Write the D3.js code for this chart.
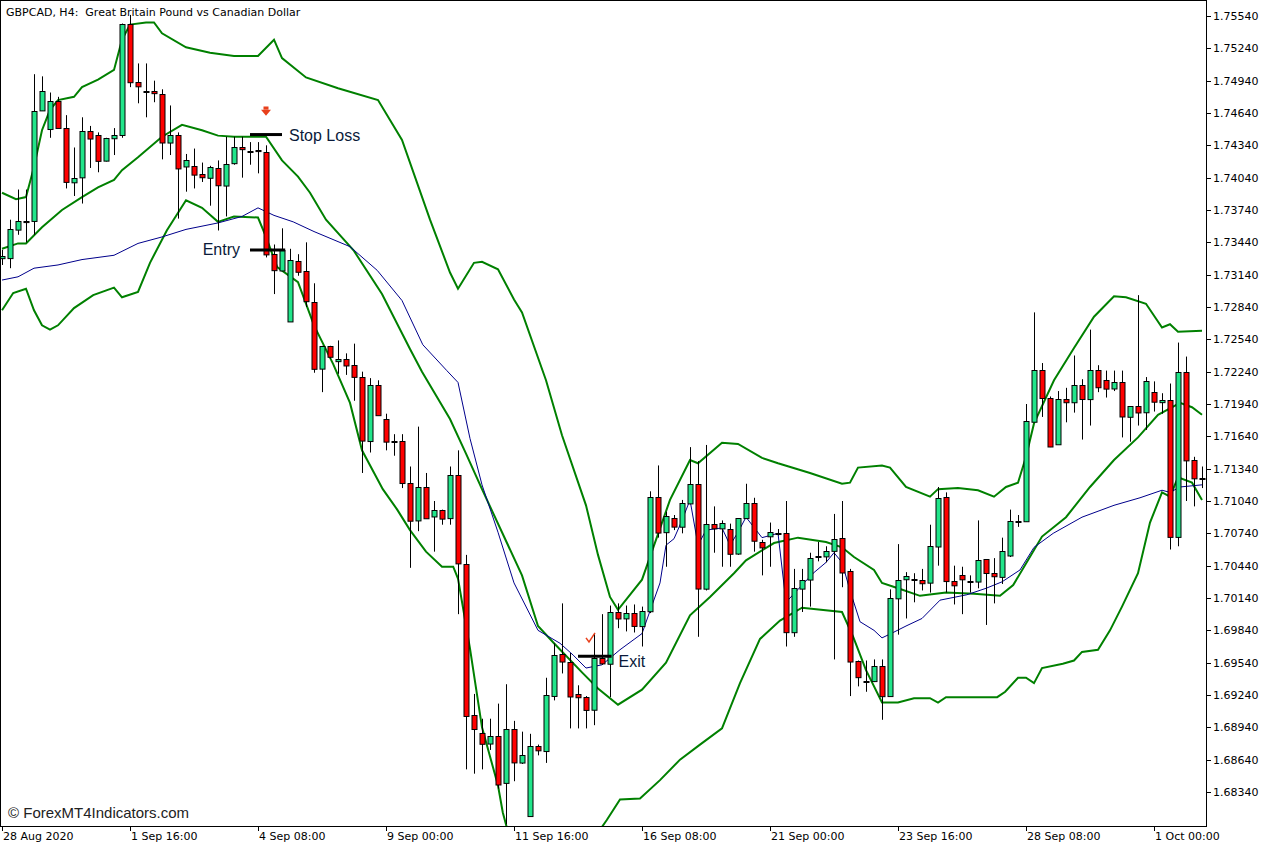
<!DOCTYPE html>
<html><head><meta charset="utf-8">
<script src="https://cdn.jsdelivr.net/npm/d3@7"></script>
<style>body{margin:0;background:#fff}svg{display:block}</style>
</head><body>
<script>
// OHLC per H4 bar, index 0..150  [open, high, low, close]
const candles = [
[1.7329,1.7337,1.7323,1.7331],[1.7329,1.7365,1.7320,1.7356],[1.7356,1.7393,1.7351,1.7364],[1.7364,1.7393,1.7344,1.7363],
[1.7364,1.7500,1.7351,1.7466],[1.7466,1.7498,1.7466,1.7484],[1.7449,1.7483,1.7441,1.7475],[1.7475,1.7479,1.7450,1.7450],
[1.7450,1.7462,1.7394,1.7400],[1.7400,1.7432,1.7387,1.7404],[1.7404,1.7460,1.7380,1.7447],[1.7447,1.7452,1.7413,1.7440],
[1.7444,1.7446,1.7409,1.7420],[1.7420,1.7441,1.7419,1.7441],[1.7441,1.7450,1.7425,1.7444],[1.7444,1.7547,1.7441,1.7547],
[1.7547,1.7555,1.7488,1.7493],[1.7493,1.7510,1.7473,1.7489],[1.7484,1.7510,1.7460,1.7484],[1.7484,1.7494,1.7474,1.7482],
[1.7482,1.7486,1.7421,1.7437],[1.7437,1.7471,1.7425,1.7444],[1.7444,1.7446,1.7366,1.7413],[1.7414,1.7426,1.7391,1.7420],
[1.7415,1.7431,1.7394,1.7407],[1.7407,1.7418,1.7400,1.7404],[1.7404,1.7415,1.7378,1.7414],[1.7413,1.7420,1.7355,1.7397],
[1.7397,1.7442,1.7368,1.7417],[1.7417,1.7442,1.7416,1.7432],[1.7432,1.7442,1.7404,1.7430],[1.7429,1.7437,1.7416,1.7429],
[1.7430,1.7437,1.7408,1.7429],[1.7428,1.7434,1.7330,1.7333],[1.7333,1.7342,1.7296,1.7318],[1.7318,1.7357,1.7318,1.7337],
[1.7271,1.7338,1.7271,1.7328],[1.7327,1.7333,1.7313,1.7317],[1.7317,1.7344,1.7284,1.7289],[1.7289,1.7306,1.7223,1.7227],
[1.7227,1.7248,1.7205,1.7248],[1.7248,1.7248,1.7236,1.7238],[1.7234,1.7253,1.7222,1.7236],[1.7236,1.7241,1.7221,1.7230],
[1.7230,1.7250,1.7197,1.7219],[1.7219,1.7224,1.7130,1.7160],[1.7160,1.7218,1.7149,1.7212],[1.7212,1.7216,1.7184,1.7184],
[1.7180,1.7185,1.7151,1.7159],[1.7160,1.7166,1.7146,1.7160],[1.7160,1.7166,1.7116,1.7121],[1.7121,1.7136,1.7042,1.7086],
[1.7086,1.7173,1.7076,1.7117],[1.7117,1.7130,1.7088,1.7088],[1.7090,1.7104,1.7057,1.7096],[1.7096,1.7096,1.7082,1.7088],
[1.7088,1.7136,1.7082,1.7128],[1.7128,1.7151,1.6999,1.7046],[1.7046,1.7054,1.6855,1.6905],[1.6905,1.6925,1.6851,1.6892],
[1.6889,1.6902,1.6855,1.6879],[1.6879,1.6902,1.6873,1.6886],[1.6886,1.6916,1.6837,1.6841],[1.6842,1.6934,1.6804,1.6892],
[1.6892,1.6900,1.6844,1.6861],[1.6861,1.6890,1.6860,1.6868],[1.6812,1.6888,1.6812,1.6877],[1.6877,1.6878,1.6868,1.6873],
[1.6872,1.6940,1.6861,1.6924],[1.6923,1.6972,1.6919,1.6961],[1.6962,1.7009,1.6944,1.6955],[1.6955,1.6963,1.6893,1.6923],
[1.6925,1.6933,1.6893,1.6922],[1.6922,1.6923,1.6893,1.6910],[1.6910,1.6981,1.6896,1.6958],[1.6958,1.6999,1.6952,1.6953],
[1.6953,1.7007,1.6922,1.7001],[1.7001,1.7009,1.6986,1.6995],[1.6995,1.7007,1.6983,1.7000],[1.7000,1.7008,1.6982,1.6988],
[1.6988,1.7006,1.6969,1.7002],[1.7002,1.7113,1.7000,1.7108],[1.7108,1.7137,1.7070,1.7075],[1.7075,1.7094,1.7043,1.7090],
[1.7088,1.7091,1.7077,1.7080],[1.7080,1.7105,1.7074,1.7102],[1.7102,1.7154,1.7101,1.7120],[1.7120,1.7141,1.6978,1.7023],
[1.7023,1.7156,1.7021,1.7083],[1.7083,1.7099,1.7056,1.7079],[1.7079,1.7086,1.7043,1.7084],[1.7078,1.7083,1.7043,1.7055],
[1.7055,1.7088,1.7054,1.7088],[1.7088,1.7120,1.7088,1.7102],[1.7102,1.7107,1.7057,1.7067],[1.7066,1.7068,1.7035,1.7061],
[1.7071,1.7084,1.7043,1.7075],[1.7074,1.7078,1.7072,1.7074],[1.7074,1.7104,1.6969,1.6982],[1.6982,1.7041,1.6978,1.7023],
[1.7023,1.7041,1.7001,1.7031],[1.7031,1.7056,1.7006,1.7051],[1.7053,1.7066,1.7048,1.7053],[1.7053,1.7062,1.7047,1.7058],
[1.7058,1.7092,1.6957,1.7069],[1.7070,1.7104,1.7024,1.7038],[1.7039,1.7041,1.6923,1.6955],[1.6956,1.6956,1.6932,1.6941],
[1.6937,1.6956,1.6927,1.6937],[1.6937,1.6957,1.6936,1.6951],[1.6951,1.6957,1.6901,1.6923],[1.6923,1.7022,1.6923,1.7014],
[1.7014,1.7064,1.6980,1.7031],[1.7031,1.7038,1.6995,1.7034],[1.7032,1.7037,1.7010,1.7032],[1.7031,1.7041,1.7021,1.7028],
[1.7028,1.7082,1.7019,1.7062],[1.7062,1.7117,1.7044,1.7107],[1.7108,1.7112,1.7019,1.7030],[1.7030,1.7044,1.7008,1.7026],
[1.7035,1.7043,1.6999,1.7031],[1.7030,1.7035,1.7019,1.7030],[1.7029,1.7086,1.7023,1.7049],[1.7050,1.7050,1.6989,1.7037],
[1.7037,1.7051,1.7009,1.7034],[1.7034,1.7070,1.7027,1.7058],[1.7053,1.7096,1.7052,1.7085],[1.7085,1.7091,1.7080,1.7085],
[1.7085,1.7194,1.7085,1.7178],[1.7178,1.7279,1.7178,1.7226],[1.7226,1.7232,1.7182,1.7200],[1.7200,1.7201,1.7154,1.7155],
[1.7157,1.7206,1.7157,1.7199],[1.7199,1.7209,1.7177,1.7196],[1.7196,1.7239,1.7186,1.7212],[1.7212,1.7217,1.7161,1.7199],
[1.7199,1.7263,1.7174,1.7226],[1.7226,1.7230,1.7205,1.7210],[1.7216,1.7225,1.7200,1.7208],[1.7208,1.7225,1.7206,1.7214],
[1.7214,1.7225,1.7163,1.7182],[1.7182,1.7192,1.7159,1.7192],[1.7192,1.7295,1.7174,1.7186],[1.7186,1.7219,1.7170,1.7215],
[1.7205,1.7215,1.7187,1.7196],[1.7196,1.7204,1.7185,1.7198],[1.7198,1.7213,1.7059,1.7071],[1.7071,1.7251,1.7062,1.7224],
[1.7224,1.7238,1.7104,1.7142],[1.7142,1.7145,1.7099,1.7125],[1.7125,1.7136,1.7116,1.7125]
];
// Bollinger bands and moving average: [bar index, price]
const upperBand = [[0,1.7390],[1.75,1.7384],[3,1.7386],[4,1.7414],[5,1.7448],[6,1.7467],[7,1.7476],[9,1.7479],[10,1.7488],[12,1.7495],[14,1.7504],[15,1.7532],[16,1.7546],[18,1.7548],[19,1.7548],[20,1.7538],[23,1.7525],[26,1.7520],[29,1.7517],[32,1.7517],[34,1.7532],[35,1.7515],[38,1.7497],[42,1.7487],[47,1.7476],[50,1.7439],[53.5,1.7365],[56,1.7316],[57,1.7301],[59,1.7325],[60,1.7326],[62,1.7319],[64,1.7291],[65,1.7279],[68,1.7216],[70,1.7165],[73,1.7100],[74.5,1.7054],[76,1.7015],[77,1.7003],[80,1.7031],[83.5,1.7105],[86,1.7142],[87,1.7139],[90,1.7158],[92,1.7157],[95,1.7144],[97,1.7139],[101,1.7130],[105,1.7120],[106,1.7121],[107,1.7135],[110,1.7137],[111,1.7135],[113,1.7117],[116,1.7108],[117,1.7115],[119.5,1.7116],[122,1.7114],[124,1.7108],[125.5,1.7117],[127,1.7121],[128,1.7145],[129,1.7176],[131.5,1.7216],[134,1.7246],[136.5,1.7275],[139,1.7294],[140.5,1.7293],[143,1.7287],[145,1.7265],[146,1.7268],[147,1.7261],[150,1.7262]];
const middleBand = [[0,1.7338],[2,1.7343],[3,1.7343],[5,1.7358],[7.5,1.7374],[10,1.7386],[12,1.7395],[14,1.7402],[15,1.7411],[17,1.7423],[20,1.7442],[22.5,1.7453],[25,1.7448],[27,1.7443],[29,1.7442],[33,1.7442],[35,1.7420],[37,1.7405],[38.5,1.7390],[40.5,1.7365],[44,1.7336],[47.5,1.7296],[51,1.7245],[52.5,1.7224],[56,1.7180],[58,1.7148],[60,1.7115],[62.5,1.7075],[65,1.7035],[67,1.6988],[69,1.6972],[72.5,1.6945],[74.5,1.6930],[77,1.6915],[80,1.6929],[83,1.6954],[86,1.6998],[88.5,1.7015],[91.5,1.7037],[93,1.7049],[96.5,1.7065],[99.5,1.7070],[103,1.7066],[105,1.7061],[106.5,1.7052],[109,1.7040],[110,1.7028],[112,1.7023],[114.75,1.7016],[118,1.7019],[121.5,1.7018],[124.75,1.7016],[126.4,1.7026],[128,1.7046],[130,1.7071],[133,1.7089],[136,1.7117],[139,1.7142],[142,1.7163],[144.5,1.7184],[146,1.7190],[147.25,1.7195],[148.75,1.7191],[150,1.7184]];
const lowerBand = [[0,1.7281],[1.4,1.7297],[3,1.7301],[4,1.7281],[5,1.7267],[6,1.7263],[7,1.7267],[9,1.7283],[11.4,1.7295],[14,1.7302],[15,1.7293],[17,1.7298],[18.5,1.7325],[20.6,1.7355],[23,1.7383],[25,1.7376],[27,1.7363],[29,1.7368],[32,1.7367],[33,1.7349],[34.4,1.7321],[37,1.7307],[39,1.7267],[41.4,1.7231],[43.5,1.7195],[45,1.7151],[47.6,1.7115],[49.4,1.7096],[51,1.7077],[53,1.7057],[55,1.7043],[56.4,1.7043],[57,1.7032],[58.5,1.6967],[60,1.6894],[62,1.6840],[62.6,1.6815],[63.5,1.6790],[69.75,1.6734],[74.75,1.6799],[75.6,1.6808],[77.25,1.6827],[79.75,1.6828],[82.25,1.6845],[84.75,1.6864],[87.25,1.6878],[90,1.6893],[92.25,1.6935],[94.75,1.6976],[97.25,1.6993],[100,1.7005],[105,1.7001],[106.4,1.6978],[108,1.6947],[110,1.6917],[112,1.6917],[114,1.6921],[116,1.6921],[117,1.6917],[118,1.6922],[124.4,1.6922],[125.4,1.6927],[127,1.6940],[128,1.6940],[129,1.6935],[130,1.6949],[132.6,1.6953],[134,1.6956],[135,1.6964],[137,1.6966],[138.5,1.6984],[140,1.7006],[142,1.7037],[143.5,1.7084],[145,1.7112],[146,1.7108],[147,1.7126],[148.75,1.7121],[150,1.7105]];
const movingAvg = [[0,1.7309],[2,1.7312],[4,1.7320],[7,1.7323],[10,1.7328],[14,1.7332],[17,1.7343],[20,1.7349],[23,1.7356],[27,1.7362],[30,1.7368],[32,1.7376],[34,1.7369],[36.4,1.7363],[39,1.7354],[43.5,1.7340],[46.9,1.7318],[50,1.7290],[52.6,1.7249],[55.6,1.7225],[57,1.7214],[58.5,1.7162],[60,1.7119],[62,1.7075],[64,1.7028],[67,1.6984],[69.75,1.6972],[71.4,1.6961],[73,1.6949],[75,1.6952],[77.25,1.6966],[80,1.6981],[81,1.7002],[82.25,1.7028],[83,1.7063],[84,1.7069],[85,1.7086],[86,1.7105],[87,1.7063],[88,1.7077],[90,1.7079],[91,1.7063],[92,1.7075],[93,1.7089],[95,1.7070],[97,1.7074],[98,1.7010],[99.75,1.7024],[101.4,1.7037],[103,1.7047],[104,1.7056],[105,1.7047],[106,1.7021],[107.25,1.6992],[109,1.6984],[110,1.6977],[111.4,1.6982],[113,1.6988],[115,1.6995],[117.25,1.7012],[120.6,1.7017],[123,1.7023],[125,1.7029],[127.25,1.7040],[129,1.7061],[131.4,1.7074],[135,1.7089],[139,1.7100],[142.25,1.7107],[145,1.7114],[146,1.7112],[147.25,1.7117],[150,1.7119]];
const priceTicks = [1.75540,1.75240,1.74940,1.74640,1.74340,1.74040,1.73740,1.73440,1.73140,1.72840,1.72540,1.72240,1.71940,1.71640,1.71340,1.71040,1.70740,1.70440,1.70140,1.69840,1.69540,1.69240,1.68940,1.68640,1.68340];
const timeTickIdx = [0,16,32,48,64,80,96,112,128,144];
const timeTickLabels = ["28 Aug 2020","1 Sep 16:00","4 Sep 08:00","9 Sep 00:00","11 Sep 16:00","16 Sep 08:00","21 Sep 00:00","23 Sep 16:00","28 Sep 08:00","1 Oct 00:00"];
const levels = [{name:"Stop Loss",price:1.7444,i0:31,i1:35,side:"right",dy:6},{name:"Entry",price:1.7337,i0:31,i1:35.4,side:"left",dy:5},{name:"Exit",price:1.6960,i0:72,i1:76.2,side:"right",dy:11}];

const W=1276,H=848, plotR=1206, plotB=826;
const svg=d3.select("body").append("svg").attr("width",W).attr("height",H).style("font-family","DejaVu Sans, sans-serif");
const x=d3.scaleLinear().domain([0,1]).range([2,10]);
const y=d3.scaleLinear().domain([1.68340,1.75540]).range([792,16]);

svg.append("clipPath").attr("id","clip").append("rect").attr("x",0).attr("y",0).attr("width",plotR).attr("height",plotB);
const g=svg.append("g").attr("clip-path","url(#clip)");

svg.append("rect").attr("x",0.5).attr("y",0.5).attr("width",plotR).attr("height",plotB).attr("fill","none").attr("stroke","#000");

const line=d3.line().x(d=>x(d[0])).y(d=>y(d[1]));
[upperBand,middleBand,lowerBand].forEach(b=>g.append("path").attr("d",line(b)).attr("fill","none").attr("stroke","#008000").attr("stroke-width",2));
g.append("path").attr("d",line(movingAvg)).attr("fill","none").attr("stroke","#00008b").attr("stroke-width",1);

const cg=g.selectAll("g.c").data(candles).join("g");
cg.append("line").attr("x1",(d,i)=>Math.round(x(i))+0.5).attr("x2",(d,i)=>Math.round(x(i))+0.5)
  .attr("y1",d=>y(d[1])).attr("y2",d=>y(d[2])).attr("stroke","#000");
cg.append("rect").attr("x",(d,i)=>Math.round(x(i))-2).attr("width",5)
  .attr("y",d=>Math.round(y(Math.max(d[0],d[3])))+0.5)
  .attr("height",d=>Math.max(1,Math.abs(y(d[0])-y(d[3]))))
  .attr("fill",d=>d[3]>=d[0]?"#21e58a":"#ff0000").attr("stroke","#000");

levels.forEach(l=>{
  g.append("line").attr("x1",x(l.i0)).attr("x2",x(l.i1)).attr("y1",y(l.price)).attr("y2",y(l.price)).attr("stroke","#000").attr("stroke-width",3);
  svg.append("text").text(l.name).attr("x",l.side==="right"?x(l.i1)+7:x(l.i0)-10).attr("y",y(l.price)+l.dy)
    .attr("text-anchor",l.side==="right"?"start":"end").attr("font-size",16).attr("fill","#0a1a3a").style("font-family","Liberation Sans, Arial, sans-serif");
});
svg.append("path").attr("d",`M${x(33)-5},${y(1.7467)} h10 l-5,6 z M${x(33)-2.5},${y(1.7470)} h5 v3 h-5 z`).attr("fill","#e8401c");
svg.append("path").attr("d",`M${x(73.5)-4},${y(1.6977)} l3,4 l6,-9`).attr("fill","none").attr("stroke","#e8401c").attr("stroke-width",1.5);

const ra=svg.append("g");
priceTicks.forEach(p=>{
  ra.append("line").attr("x1",plotR).attr("x2",plotR+5).attr("y1",Math.round(y(p))+0.5).attr("y2",Math.round(y(p))+0.5).attr("stroke","#000");
  ra.append("text").text(p.toFixed(5)).attr("x",plotR+7).attr("y",y(p)+4).attr("font-size",11).attr("fill","#000");
});
timeTickIdx.forEach((t,i)=>{
  svg.append("line").attr("x1",Math.round(x(t))+0.5).attr("x2",Math.round(x(t))+0.5).attr("y1",plotB).attr("y2",plotB+5).attr("stroke","#000");
  svg.append("text").text(timeTickLabels[i]).attr("x",x(t)+1).attr("y",plotB+14).attr("font-size",11).attr("fill","#000");
});
svg.append("text").text("GBPCAD, H4:  Great Britain Pound vs Canadian Dollar").attr("x",6).attr("y",16).attr("font-size",11).attr("fill","#000").style("white-space","pre");
svg.append("text").text("© ForexMT4Indicators.com").attr("x",8).attr("y",818).attr("font-size",15).attr("fill","#222").style("font-family","Liberation Sans, Arial, sans-serif");
</script>
</body></html>
